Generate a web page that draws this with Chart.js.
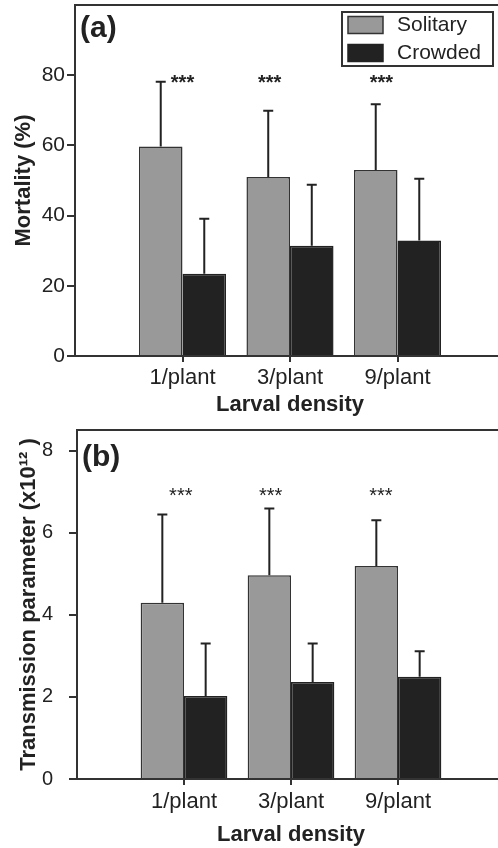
<!DOCTYPE html>
<html>
<head>
<meta charset="utf-8">
<script src="https://cdn.jsdelivr.net/npm/chart.js@4"></script>
<style>
  body { margin: 0; background: #fff; overflow: hidden; }
  .panel { position: absolute; left: 0; width: 498px; overflow: hidden; }
</style>
</head>
<body>
<div class="panel" style="top:0;height:420px"><canvas id="chartA" width="505" height="420"></canvas></div>
<div class="panel" style="top:420px;height:428px"><canvas id="chartB" width="505" height="428"></canvas></div>
<script>
const densities = ['1/plant', '3/plant', '9/plant'];
const seriesNames = ['Solitary', 'Crowded'];

// (a) mortality, %
const mortalitySolitary = [59.7, 51.0, 53.0];
const mortalitySolitaryErr = [78.1, 69.9, 71.7];
const mortalityCrowded = [23.4, 31.4, 32.9];
const mortalityCrowdedErr = [39.1, 48.8, 50.5];
const mortalityTicks = [0, 20, 40, 60, 80];
const mortalityStars = [79.6, 79.6, 79.6];

// (b) transmission parameter, x10^12
const transSolitary = [4.29, 4.96, 5.19];
const transSolitaryErr = [6.44, 6.59, 6.30];
const transCrowded = [2.02, 2.36, 2.49];
const transCrowdedErr = [3.30, 3.30, 3.11];
const transTicks = [0, 2, 4, 6, 8];
const transStars = [7.05, 7.05, 7.05];

const FONT = "'Liberation Sans', Arial, sans-serif";
const INK = '#222';
const AXIS = '#333';
const VIEW_W = 498; // canvas runs a few px past the window, like the original axis

Chart.defaults.font.family = FONT;
Chart.defaults.color = INK;

// empty slot at each end so the groups sit like the original
const pad = (arr) => [null, ...arr, null];
const labels = ['', ...densities, ''];

const errorBars = {
  id: 'errorBars',
  afterDatasetsDraw(chart) {
    const { ctx } = chart;
    const y = chart.scales.y;
    ctx.save();
    ctx.strokeStyle = INK;
    ctx.lineWidth = 2;
    chart.data.datasets.forEach((ds, di) => {
      chart.getDatasetMeta(di).data.forEach((bar, i) => {
        const top = ds.errorTop[i];
        if (top == null || ds.data[i] == null) return;
        const yTop = y.getPixelForValue(top);
        ctx.beginPath();
        ctx.moveTo(bar.x, bar.y);
        ctx.lineTo(bar.x, yTop);
        ctx.moveTo(bar.x - 5, yTop);
        ctx.lineTo(bar.x + 5, yTop);
        ctx.stroke();
      });
    });
    ctx.restore();
  }
};

const decor = {
  id: 'decor',
  afterDraw(chart, args, opts) {
    const { ctx, chartArea: area } = chart;
    const x = chart.scales.x;
    const y = chart.scales.y;
    ctx.save();

    // top frame line
    ctx.strokeStyle = AXIS;
    ctx.lineWidth = 2;
    ctx.beginPath();
    ctx.moveTo(area.left, area.top);
    ctx.lineTo(chart.width, area.top);
    ctx.stroke();

    // panel tag
    ctx.fillStyle = INK;
    ctx.font = 'bold 30px ' + FONT;
    ctx.textBaseline = 'middle';
    ctx.textAlign = 'left';
    ctx.fillText(opts.tag, area.left + 5, area.top + opts.tagDy);

    // significance stars
    ctx.font = (opts.starBold ? 'bold ' : '') + '20px ' + FONT;
    ctx.textAlign = 'center';
    ctx.textBaseline = 'alphabetic';
    opts.stars.forEach((v, i) => {
      const px = x.getPixelForValue(i + 1 + opts.starShift[i]);
      ctx.fillText('***', px, y.getPixelForValue(v) + 12);
    });

    // legend box
    if (opts.legend) {
      const w = 151, h = 54;
      const bx = VIEW_W - 5 - w, by = area.top + 7;
      ctx.strokeStyle = AXIS;
      ctx.lineWidth = 2;
      ctx.strokeRect(bx, by, w, h);
      ctx.font = '21px ' + FONT;
      ctx.textAlign = 'left';
      ctx.textBaseline = 'middle';
      chart.data.datasets.forEach((ds, i) => {
        const sy = by + 4.5 + i * 28;
        ctx.fillStyle = ds.backgroundColor;
        ctx.fillRect(bx + 6, sy, 35, 17);
        ctx.lineWidth = 1.5;
        ctx.strokeStyle = ds.borderColor;
        ctx.strokeRect(bx + 6, sy, 35, 17);
        ctx.fillStyle = INK;
        ctx.fillText(ds.label, bx + 55, sy + 9);
      });
    }
    ctx.restore();
  }
};

function makeChart(id, cfg) {
  return new Chart(document.getElementById(id), {
    type: 'bar',
    data: {
      labels,
      datasets: [
        {
          label: seriesNames[0],
          data: pad(cfg.solitary),
          errorTop: pad(cfg.solitaryErr),
          backgroundColor: '#999',
          borderColor: AXIS,
          borderWidth: 1.5,
          borderSkipped: 'bottom'
        },
        {
          label: seriesNames[1],
          data: pad(cfg.crowded),
          errorTop: pad(cfg.crowdedErr),
          backgroundColor: INK,
          borderColor: INK,
          borderWidth: 1.5,
          borderSkipped: 'bottom'
        }
      ]
    },
    options: {
      responsive: false,
      animation: false,
      devicePixelRatio: 1,
      layout: { padding: { top: cfg.top, left: 0, right: 0, bottom: 0 } },
      datasets: { bar: { categoryPercentage: 0.81, barPercentage: 1 } },
      plugins: {
        legend: { display: false },
        tooltip: { enabled: false },
        decor: cfg.decor
      },
      scales: {
        x: {
          offset: false,
          grid: {
            offset: false,
            drawOnChartArea: false,
            tickLength: 6,
            lineWidth: 2,
            color: (c) => (c.index === 0 || c.index === labels.length - 1) ? 'rgba(0,0,0,0)' : AXIS
          },
          border: { color: AXIS, width: 2 },
          ticks: { font: { size: 22 }, padding: cfg.xTickPad, maxRotation: 0, autoSkip: false },
          title: {
            display: true,
            text: 'Larval density',
            font: { size: 22, weight: 'bold' },
            padding: { top: 0, bottom: cfg.xTitlePad }
          },
          afterFit: (s) => { s.height = cfg.xHeight; s.paddingLeft = 0; s.paddingRight = 0; }
        },
        y: {
          min: 0,
          max: cfg.max,
          afterBuildTicks: (s) => { s.ticks = cfg.ticks.map((v) => ({ value: v })); },
          grid: { drawOnChartArea: false, tickLength: cfg.yTickLen, lineWidth: 2, color: AXIS },
          border: { color: AXIS, width: 2 },
          ticks: { font: { size: cfg.yFont }, padding: cfg.yTickPad },
          title: {
            display: true,
            text: cfg.yTitle,
            font: { size: 22, weight: 'bold' },
            padding: { top: cfg.yTitlePad, bottom: 0 }
          },
          afterFit: (s) => { s.width = cfg.yWidth; s.paddingTop = 0; s.paddingBottom = 0; }
        }
      }
    },
    plugins: [errorBars, decor]
  });
}

makeChart('chartA', {
  solitary: mortalitySolitary, solitaryErr: mortalitySolitaryErr,
  crowded: mortalityCrowded, crowdedErr: mortalityCrowdedErr,
  ticks: mortalityTicks, max: 100,
  yTitle: 'Mortality (%)',
  top: 5, xHeight: 64, yWidth: 75,
  xTickPad: 3, xTitlePad: 2, yTickLen: 8, yTickPad: 2, yFont: 21, yTitlePad: 11,
  decor: { tag: '(a)', tagDy: 24, stars: mortalityStars, starShift: [0, -0.19, -0.15], starBold: true, legend: true }
});

makeChart('chartB', {
  solitary: transSolitary, solitaryErr: transSolitaryErr,
  crowded: transCrowded, crowdedErr: transCrowdedErr,
  ticks: transTicks, max: 8.5,
  yTitle: 'Transmission parameter (x10\u00b9\u00b2 )',
  top: 10, xHeight: 69, yWidth: 77,
  xTickPad: 4, xTitlePad: 0, yTickLen: 8, yTickPad: 16, yFont: 20, yTitlePad: 16,
  decor: { tag: '(b)', tagDy: 28, stars: transStars, starShift: [-0.03, -0.19, -0.16], starBold: false, legend: false }
});
</script>
</body>
</html>
